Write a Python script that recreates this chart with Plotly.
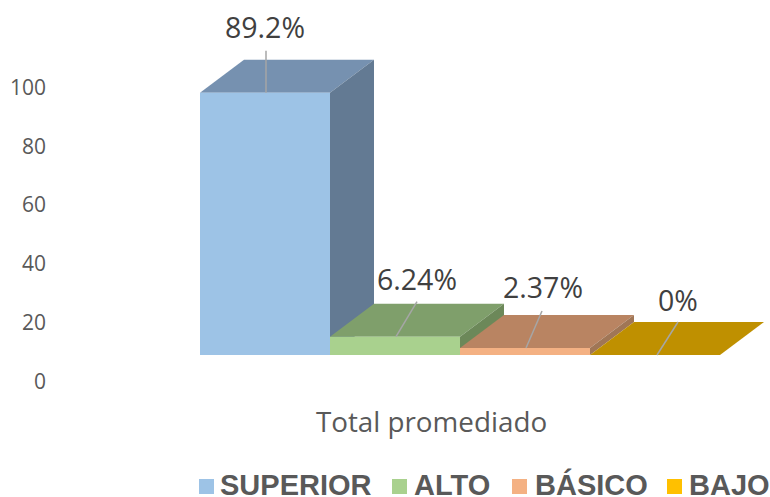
import plotly.graph_objects as go

categories = ["SUPERIOR", "ALTO", "BÁSICO", "BAJO"]
values = [89.2, 6.24, 2.37, 0]
value_labels = ["89.2%", "6.24%", "2.37%", "0%"]
front_colors = ["#9DC3E6", "#A9D18E", "#F4B183", "#FFC000"]
top_colors = ["#7691B0", "#7F9F6B", "#B98462", "#BF9000"]
side_colors = ["#637A93", "#6C8859", "#A07656", "#A07A00"]
legend_colors = ["#9DC3E6", "#A9D18E", "#F4B183", "#FFC000"]
y_ticks = [0, 20, 40, 60, 80, 100]
group_label = "Total promediado"

W, H = 770, 497
L, B = 50, 94
BAR_PX = 130.0
BAR_LEFT = 200.0
UNIT_PX = 2.94
FLOOR_PY = 355.0
PLOT_BOTTOM = H - B

def xd(px):
    return (px - BAR_LEFT) / BAR_PX

def yd(py):
    return (FLOOR_PY - py) / UNIT_PX

DX = 44 / BAR_PX
DY = 33 / UNIT_PX
TICK_SHIFT = yd(381.5)

leader_base = [1, 1, 1, 2]
leader_lean = [0, 21, 16, 21]
leader_rise = [42, 35, 37, 33]
label_dx = [0, 22, 18, 23]
label_rise = [62, 54, 57, 51]

fig = go.Figure()

def face(xs, ys, color):
    fig.add_trace(go.Scatter(
        x=xs, y=ys, mode="lines", fill="toself", fillcolor=color,
        line=dict(width=0), hoverinfo="skip", showlegend=False))

for i, v in enumerate(values):
    x0, x1 = i, i + 1
    face([x0, x1, x1 + DX, x0 + DX, x0], [v, v, v + DY, v + DY, v], top_colors[i])
    if v > 0:
        face([x1, x1 + DX, x1 + DX, x1, x1], [0, DY, v + DY, v, 0], side_colors[i])
        face([x0, x1, x1, x0, x0], [0, 0, v, v, 0], front_colors[i])

for i, v in enumerate(values):
    base = i + 0.5 + leader_base[i] / BAR_PX
    fig.add_trace(go.Scatter(
        x=[base, base + leader_lean[i] / BAR_PX],
        y=[v, v + leader_rise[i] / UNIT_PX],
        mode="lines", line=dict(color="#A6A6A6", width=1.5),
        hoverinfo="skip", showlegend=False))

fig.add_trace(go.Scatter(
    x=[i + 0.5 + label_dx[i] / BAR_PX for i in range(len(values))],
    y=[v + label_rise[i] / UNIT_PX for i, v in enumerate(values)],
    text=value_labels, mode="text", textposition="middle center",
    textfont=dict(family="Open Sans", size=28.5, color="#404040"),
    hoverinfo="skip", showlegend=False))

legend_swatch_px = [199, 392, 512, 667]
legend_text_px = [221, 415, 536, 690]
shapes, annotations = [], []
for name, c, sx, tx in zip(categories, legend_colors, legend_swatch_px, legend_text_px):
    shapes.append(dict(
        type="rect", xref="paper", yref="paper", line=dict(width=0), fillcolor=c,
        x0=(sx - L) / (W - L), x1=(sx + 15 - L) / (W - L),
        y0=(PLOT_BOTTOM - 494) / PLOT_BOTTOM, y1=(PLOT_BOTTOM - 479) / PLOT_BOTTOM))
    annotations.append(dict(
        text=f"<b>{name}</b>", xref="paper", yref="paper", showarrow=False,
        x=(tx - L) / (W - L), y=(PLOT_BOTTOM - 485) / PLOT_BOTTOM,
        xanchor="left", yanchor="middle", xshift=-3,
        font=dict(family="Liberation Sans", size=29, color="#595959")))

fig.update_layout(
    width=W, height=H, margin=dict(l=L, r=0, t=0, b=B),
    paper_bgcolor="white", plot_bgcolor="white", showlegend=False,
    shapes=shapes, annotations=annotations,
    xaxis=dict(range=[xd(L), xd(W)], showgrid=False, zeroline=False, showline=False,
               tickvals=[xd(431.5)], ticktext=[group_label], ticks="",
               tickfont=dict(family="Open Sans", size=27.8, color="#595959")),
    yaxis=dict(range=[yd(PLOT_BOTTOM), yd(0)], showgrid=False, zeroline=False, showline=False,
               tickvals=[t + TICK_SHIFT for t in y_ticks], ticktext=[str(t) for t in y_ticks],
               ticks="", ticklabelstandoff=3,
               tickfont=dict(family="Open Sans", size=21, color="#595959")),
)

fig.write_html("out.html", post_script="document.body.style.margin='0';",
               config={"displayModeBar": False})
